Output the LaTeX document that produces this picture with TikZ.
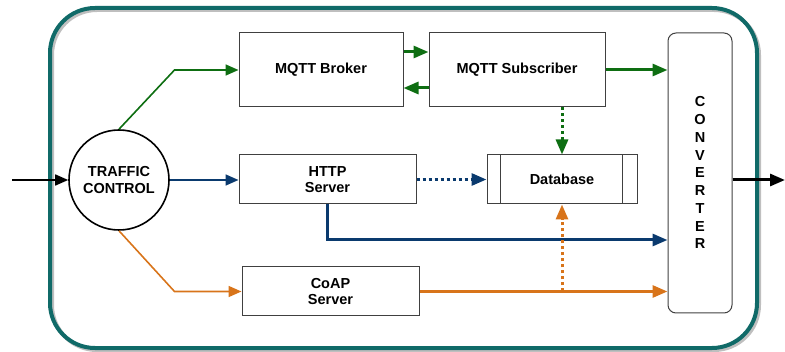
\documentclass[tikz,border=0pt]{standalone}
\usepackage{fontspec}
\setmainfont{Liberation Sans}
\usepackage{tikz}
\usepackage{xcolor}
\usetikzlibrary{calc,shapes,arrows.meta}

\definecolor{frame}{RGB}{16,106,104}
\definecolor{mqtt}{RGB}{14,110,18}
\definecolor{http}{RGB}{10,58,110}
\definecolor{coap}{RGB}{216,116,26}

\begin{document}
\begin{tikzpicture}[x=1pt,y=1pt,
box/.style={draw=black!75,line width=1pt,font=\fontsize{14.5}{16.5}\selectfont\bfseries,align=center,inner sep=0},
ctrl/.style={draw,circle,line width=1.6pt,minimum size=100pt,font=\fontsize{14.5}{16.5}\selectfont\bfseries,align=center,inner sep=0},
conlab/.style={font=\fontsize{14.5}{16.5}\selectfont\bfseries,inner sep=0},
flow/.style={-{Triangle[length=13pt,width=11pt]}, line width=1.6pt},
bus/.style={-{Triangle[length=15pt,width=12pt]}, line width=3pt},
dots/.style={bus, dash pattern=on 3pt off 3pt}]
	\useasboundingbox (0,0) rectangle (785,351);
	\def\yy{18}
	\def\ls{17.75}
	\def\kk{64}

	% frame
	\draw[black!25, line width=4pt, rounded corners=45pt] (52,1) rectangle (759,341);
	\draw[frame, line width=4pt, rounded corners=45pt] (50,3) rectangle (757,343);

	\node[ctrl] at (119,171) (tc) {TRAFFIC\\CONTROL};
	\node[box, minimum width=164pt, minimum height=74pt] at (321,281) (broker) {MQTT Broker};
	\node[box, minimum width=176pt, minimum height=74pt] at (517,281) (sub) {MQTT Subscriber};
	\node[box, minimum width=177pt, minimum height=49pt] at (327.5,171.5) (srv) {HTTP\\Server};
	\node[box, minimum width=150pt, minimum height=49pt] at (562,171.5) (db) {Database};
	\node[box, minimum width=177pt, minimum height=49pt] at (330.5,59.5) (coap) {CoAP\\Server};
	\node[box, rounded corners=8pt, minimum width=64pt, minimum height=280pt] at (700,178) (conv) {};

	\draw[black!75, line width=1pt] ([xshift=14]db.north west) -- ([xshift=14]db.south west);
	\draw[black!75, line width=1pt] ([xshift=-15]db.north east) -- ([xshift=-15]db.south east);

	\foreach \c [count=\i] in {C,O,N,V,E,R,T,E,R} {
		\node[conlab] at ([yshift={(5-\i)*\ls}]conv.center) {\c};
	}

	\coordinate (in) at (12,171);
	\coordinate (out) at (785,171);

	%in / out
	\draw[flow] (in) -- (tc.west);
	\draw[bus, black] (conv.east |- out) -- (out);
	%mqtt
	\draw[flow, mqtt] (tc.north) -- ([xshift=-\kk]broker.west) -- (broker.west);
	\draw[bus, mqtt] ([yshift=\yy]broker.east) -- ([yshift=\yy]sub.west);
	\draw[bus, mqtt] ([yshift=-\yy]sub.west) -- ([yshift=-\yy]broker.east);
	\draw[bus, mqtt] (sub.east) -- (sub.east -| conv.west);
	\draw[dots, mqtt] (db.north |- sub.south) -- (db.north);
	%http
	\draw[flow, http] (tc.east) -- (tc.east -| srv.west);
	\draw[dots, http] (srv.east) -- (db.west);
	\draw[bus, http] (srv.south) |- ([yshift=-67]conv.west);
	%coap
	\draw[flow, coap] (tc.south) -- ([xshift=-\kk-3]coap.west) -- (coap.west);
	\draw[bus, coap] (coap.east) -- (coap.east -| conv.west);
	\draw[dots, coap] (db.south |- coap.east) -- (db.south);

\end{tikzpicture}
\end{document}
